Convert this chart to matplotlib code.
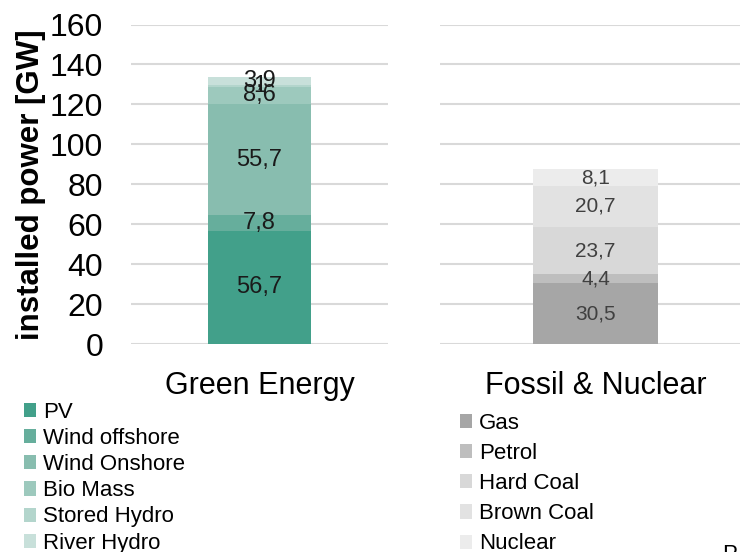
import matplotlib
matplotlib.use("Agg")
import matplotlib.pyplot as plt
from matplotlib.patches import Patch

plt.rcParams['font.family'] = ['Liberation Sans', 'DejaVu Sans']

green_category = "Green Energy"
green_names = ["PV", "Wind offshore", "Wind Onshore", "Bio Mass", "Stored Hydro", "River Hydro"]
green_values = [56.7, 7.8, 55.7, 8.6, 1.0, 3.9]
green_colors = ["#42a08a", "#66ae9c", "#88bdaf", "#9dc9bd", "#b3d5cc", "#c8e0da"]

fossil_category = "Fossil & Nuclear"
fossil_names = ["Gas", "Petrol", "Hard Coal", "Brown Coal", "Nuclear"]
fossil_values = [30.5, 4.4, 23.7, 20.7, 8.1]
fossil_colors = ["#a6a6a6", "#bebebe", "#d8d8d8", "#e2e2e2", "#ececec"]

y_ticks = [0, 20, 40, 60, 80, 100, 120, 140, 160]
y_label = "installed power [GW]"

W, H = 740, 552
fig = plt.figure(figsize=(W / 100, H / 100), dpi=100)


def fmt(v):
    return ("%g" % v).replace(".", ",")


def make_axes(x0, x1, y_top, y_bot):
    return fig.add_axes([x0 / W, 1 - y_bot / H, (x1 - x0) / W, (y_bot - y_top) / H])


def draw(ax, cat, names, values, colors, label_color, label_size):
    bottom = 0
    for n, v, c in zip(names, values, colors):
        bars = ax.bar([0], [v], bottom=bottom, width=0.4, color=c, label=n, zorder=2)
        ax.bar_label(bars, labels=[fmt(v)], label_type="center",
                     color=label_color, fontsize=label_size)
        bottom += v
    ax.set_xlim(-0.5, 0.5)
    ax.set_ylim(0, 160)
    ax.set_yticks(y_ticks)
    ax.grid(axis="y", color="#d9d9d9", linewidth=1.5, zorder=0)
    ax.set_axisbelow(True)
    for s in ax.spines.values():
        s.set_visible(False)
    ax.set_xticks([0])
    ax.set_xticklabels([cat], fontsize=22, color="#000000")
    ax.tick_params(axis="x", length=0, pad=19.5)
    ax.tick_params(axis="y", length=0)


ax1 = make_axes(131, 388, 24.5, 344)
draw(ax1, green_category, green_names, green_values, green_colors, "#1a1a1a", 17)
ax1.tick_params(axis="y", labelsize=23, pad=20, labelcolor="#000000")
ax1.set_ylabel(y_label, fontsize=22.5, fontweight="bold", labelpad=3)

ax2 = make_axes(440, 751, 24.5, 344)
draw(ax2, fossil_category, fossil_names, fossil_values, fossil_colors, "#404040", 15)
ax2.tick_params(axis="y", labelleft=False)

h1 = [Patch(facecolor=c, edgecolor="none") for c in green_colors]
fig.legend(h1, green_names, loc="upper left", bbox_to_anchor=(24 / W, 1 - 402 / H),
           frameon=False, fontsize=16, handlelength=0.55, handleheight=0.6,
           handletextpad=0.3, labelspacing=0.23, borderpad=0, borderaxespad=0)

h2 = [Patch(facecolor=c, edgecolor="none") for c in fossil_colors]
fig.legend(h2, fossil_names, loc="upper left", bbox_to_anchor=(460 / W, 1 - 413 / H),
           frameon=False, fontsize=16, handlelength=0.55, handleheight=0.6,
           handletextpad=0.3, labelspacing=0.41, borderpad=0, borderaxespad=0)

fig.text(722 / W, 1 - 560 / H, "P", fontsize=16, ha="left", va="baseline")

fig.savefig("out.png", dpi=100)
